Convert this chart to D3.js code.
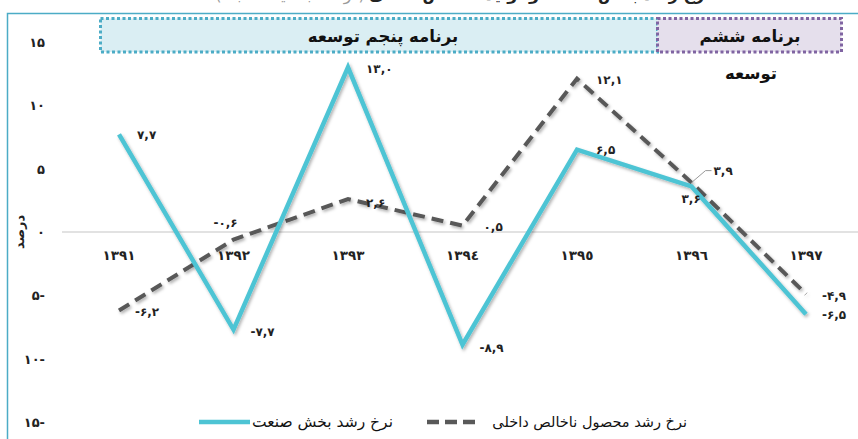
<!DOCTYPE html>
<html>
<head>
<meta charset="utf-8">
<script src="https://cdn.jsdelivr.net/npm/d3@7"></script>
<style>
  body { margin: 0; background: #fff; }
  svg { display: block; font-family: "DejaVu Sans", sans-serif; }
  .num { direction: ltr; unicode-bidi: bidi-override; }
</style>
</head>
<body>
<svg id="chart" width="858" height="439"></svg>
<script>
// chart data
const years = ['۱۳۹۱', '۱۳۹۲', '۱۳۹۳', '١٣٩٤', '١٣٩٥', '١٣٩٦', '۱۳۹۷'];
const industry = [7.7, -7.7, 13.0, -8.9, 6.5, 3.6, -6.5];
const gdp = [-6.2, -0.6, 2.6, 0.5, 12.1, 3.9, -4.9];
const industryLabels = ['۷,۷', '-۷,۷', '۱۳,۰', '-۸,۹', '۶,۵', '۳,۶', '-۶,۵'];
const gdpLabels = ['-۶,۲', '-۰,۶', '۲,۶', '۰,۵', '۱۲,۱', '۳,۹', '-۴,۹'];
const yTicks = [15, 10, 5, 0, -5, -10, -15];
const yTickLabels = ['۱۵', '۱۰', '۵', '۰', '۵-', '۱۰-', '۱۵-'];
const seriesNames = ['نرخ رشد بخش صنعت', 'نرخ رشد محصول ناخالص داخلی'];
const periods = ['برنامه پنجم توسعه', 'برنامه ششم'];

const teal = '#4EC4D4';
const grey = '#595959';

const svg = d3.select('#chart');

const defs = svg.append('defs');
const f = defs.append('filter').attr('id', 'shadow')
  .attr('x', '-10%').attr('y', '-10%').attr('width', '120%').attr('height', '120%');
f.append('feDropShadow').attr('dx', 1.5).attr('dy', 2).attr('stdDeviation', 1.5)
  .attr('flood-color', '#000').attr('flood-opacity', 0.3);

// outer frame (partially visible)
svg.append('path')
  .attr('d', 'M7.5,439 V13.5 H858')
  .attr('fill', 'none').attr('stroke', '#4BACC6').attr('stroke-width', 1.5);

// title, mostly cut off by the top edge as in the source
svg.append('text')
  .attr('x', 540).attr('y', 0)
  .attr('text-anchor', 'middle').attr('font-size', 16).attr('font-weight', 'bold')
  .attr('fill', '#222')
  .text('نرخ رشد بخش صنعت و تولید ناخالص داخلی');
svg.append('text')
  .attr('x', 290).attr('y', 0)
  .attr('text-anchor', 'middle').attr('font-size', 16)
  .attr('fill', '#999')
  .text('(درصد، به قیمت ثابت)');

const x = d3.scalePoint().domain(years).range([119, 806]);
const y = d3.scaleLinear().domain([-15, 15]).range([422, 42]);

// period bands
const bandY = 18.5, bandH = 33.5;
svg.append('rect')
  .attr('x', 100.5).attr('y', bandY).attr('width', 557).attr('height', bandH)
  .attr('fill', '#DAEEF3').attr('stroke', '#4BACC6').attr('stroke-width', 3)
  .attr('stroke-dasharray', '3,2.5');
svg.append('rect')
  .attr('x', 657.5).attr('y', bandY).attr('width', 184).attr('height', bandH)
  .attr('fill', '#E5DFEC').attr('stroke', '#8064A2').attr('stroke-width', 3)
  .attr('stroke-dasharray', '3,2.5');
svg.append('text')
  .attr('x', 383).attr('y', 42).attr('text-anchor', 'middle')
  .attr('font-size', 16.5).attr('font-weight', 'bold').attr('fill', '#111')
  .text(periods[0]);
svg.append('text')
  .attr('x', 750).attr('y', 42).attr('text-anchor', 'middle')
  .attr('font-size', 16.5).attr('font-weight', 'bold').attr('fill', '#111')
  .text(periods[1]);
svg.append('text')
  .attr('x', 751).attr('y', 79).attr('text-anchor', 'middle')
  .attr('font-size', 16.5).attr('font-weight', 'bold').attr('fill', '#111')
  .text('توسعه');

// zero line
svg.append('line')
  .attr('x1', 62).attr('x2', 858)
  .attr('y1', y(0)).attr('y2', y(0))
  .attr('stroke', '#D9D9D9').attr('stroke-width', 1.5);

// y axis labels
svg.selectAll('.ytick')
  .data(yTicks)
  .enter().append('text')
  .attr('class', 'ytick num')
  .attr('x', 45).attr('y', d => y(d) + 5)
  .attr('text-anchor', 'end')
  .attr('font-size', 13).attr('font-weight', 'bold').attr('fill', '#222')
  .text((d, i) => yTickLabels[i]);

svg.append('text')
  .attr('transform', `translate(24,${y(0)}) rotate(-90)`)
  .attr('text-anchor', 'middle')
  .attr('font-size', 13).attr('font-weight', 'bold').attr('fill', '#222')
  .text('درصد');

// category labels
svg.selectAll('.xtick')
  .data(years)
  .enter().append('text')
  .attr('class', 'xtick num')
  .attr('x', d => x(d)).attr('y', 260)
  .attr('text-anchor', 'middle')
  .attr('font-size', 13.5).attr('font-weight', 'bold').attr('fill', '#222')
  .text(d => d);

const line = d3.line()
  .x((d, i) => x(years[i]))
  .y(d => y(d));

svg.append('path')
  .datum(gdp)
  .attr('d', line)
  .attr('fill', 'none').attr('stroke', grey).attr('stroke-width', 4)
  .attr('stroke-dasharray', '12,7').attr('filter', 'url(#shadow)');

svg.append('path')
  .datum(industry)
  .attr('d', line)
  .attr('fill', 'none').attr('stroke', teal).attr('stroke-width', 4.5)
  .attr('stroke-linejoin', 'miter').attr('filter', 'url(#shadow)');

// label placement (offsets from point)
const indOff = [[18, 1], [17, 2], [18, 2], [17, 3], [19, 0], [-10, 13], [16, 1]];
const gdpOff = [[16, 1], [-20, -17], [18, 4], [21, 1], [19, 1], [22, -12], [16, 2]];

// leader line for 3.9
svg.append('path')
  .attr('d', () => {
    const px = x(years[5]), py = y(gdp[5]);
    return `M${px},${py} L${px + 14},${py - 12} H${px + 20}`;
  })
  .attr('fill', 'none').attr('stroke', '#999').attr('stroke-width', 1);

svg.selectAll('.ilab')
  .data(industry)
  .enter().append('text')
  .attr('class', 'ilab num')
  .attr('x', (d, i) => x(years[i]) + indOff[i][0])
  .attr('y', (d, i) => y(d) + indOff[i][1] + 4)
  .attr('font-size', 12).attr('font-weight', 'bold').attr('fill', '#222')
  .attr('letter-spacing', 1)
  .text((d, i) => industryLabels[i]);

svg.selectAll('.glab')
  .data(gdp)
  .enter().append('text')
  .attr('class', 'glab num')
  .attr('x', (d, i) => x(years[i]) + gdpOff[i][0])
  .attr('y', (d, i) => y(d) + gdpOff[i][1] + 4)
  .attr('font-size', 12).attr('font-weight', 'bold').attr('fill', '#222')
  .attr('letter-spacing', 1)
  .text((d, i) => gdpLabels[i]);

// legend
const lg = svg.append('g');
lg.append('line').attr('x1', 199).attr('x2', 250).attr('y1', 422).attr('y2', 422)
  .attr('stroke', teal).attr('stroke-width', 4.5);
lg.append('text').attr('x', 393).attr('y', 427).attr('text-anchor', 'end')
  .attr('font-size', 15.5).attr('fill', '#111').text(seriesNames[0]);
lg.append('line').attr('x1', 427).attr('x2', 480).attr('y1', 422).attr('y2', 422)
  .attr('stroke', grey).attr('stroke-width', 4.5).attr('stroke-dasharray', '12,6');
lg.append('text').attr('x', 687).attr('y', 427).attr('text-anchor', 'end')
  .attr('font-size', 14.5).attr('fill', '#111').text(seriesNames[1]);
</script>
</body>
</html>
